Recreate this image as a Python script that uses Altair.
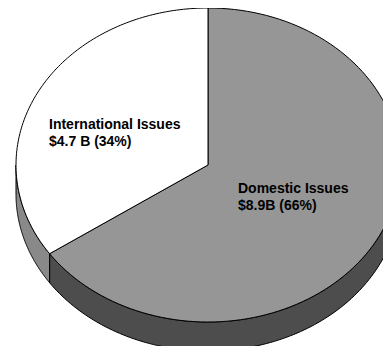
import altair as alt
import numpy as np
import pandas as pd

# ---- data ----
categories = ["Domestic Issues", "International Issues"]
values_b = [8.9, 4.7]                      # $ billions
label_line1 = ["Domestic Issues", "International Issues"]
label_line2 = ["$8.9B (66%)", "$4.7 B (34%)"]

# ---- layout / style (not data) ----
# the page (8px margin + chart + 8px margin) must fit the 391x354 window
W, H = 375, 338
CX, CY, RX, RY, DEPTH = 200, 157, 192, 157, 29
top_colors = {"Domestic Issues": "#969696", "International Issues": "#ffffff"}
side_colors = {"Domestic Issues": "#4d4d4d", "International Issues": "#898989"}
label_pos = {"Domestic Issues": (230, 184.5), "International Issues": (41, 120.5)}
N = 120

total = float(sum(values_b))
ends = np.cumsum(values_b) / total * 360.0
starts = np.concatenate([[0.0], ends[:-1]])


def pt(theta_deg, drop=0.0):
    t = np.radians(theta_deg)
    return CX + RX * np.sin(t), CY - RY * np.cos(t) + drop


rows_top, rows_side = [], []
for cat, a, b in zip(categories, starts, ends):
    # top face: centre -> arc -> centre
    th = np.linspace(a, b, N)
    xs_, ys_ = pt(th)
    px = np.concatenate([[CX], xs_, [CX]])
    py = np.concatenate([[CY], ys_, [CY]])
    for i, (x, y) in enumerate(zip(px, py)):
        rows_top.append({"key": cat, "i": i, "x": x, "y": y})
    # visible side band (front half: 90..270 deg)
    lo, hi = max(a, 90.0), min(b, 270.0)
    if lo < hi:
        th = np.linspace(lo, hi, N)
        tx, ty = pt(th)
        bx, by = pt(th[::-1], DEPTH)
        px = np.concatenate([tx, bx, tx[:1]])
        py = np.concatenate([ty, by, ty[:1]])
        for i, (x, y) in enumerate(zip(px, py)):
            rows_side.append({"key": cat, "i": i, "x": x, "y": y})

top_df = pd.DataFrame(rows_top)
side_df = pd.DataFrame(rows_side)
lab_df = pd.DataFrame({
    "key": categories,
    "text": [f"{l1}\n{l2}" for l1, l2 in zip(label_line1, label_line2)],
    "x": [label_pos[c][0] for c in categories],
    "y": [label_pos[c][1] for c in categories],
})

xs = alt.Scale(domain=[0, W], nice=False, zero=False)
ys = alt.Scale(domain=[0, H], reverse=True, nice=False, zero=False)


def poly(df, colors):
    return alt.Chart(df).mark_line(stroke="black", strokeWidth=1, clip=True,
                                   strokeJoin="round").encode(
        x=alt.X("x:Q", scale=xs, axis=None),
        y=alt.Y("y:Q", scale=ys, axis=None),
        fill=alt.Fill("key:N", scale=alt.Scale(domain=list(colors.keys()),
                                               range=list(colors.values())),
                      legend=None),
        detail="key:N",
        order=alt.Order("i:Q"),
    )


side = poly(side_df, side_colors)
top = poly(top_df, top_colors)

labels = alt.Chart(lab_df).mark_text(
    align="left", baseline="alphabetic", lineBreak="\n", lineHeight=17,
    font="Liberation Sans", fontWeight="bold", fontSize=14, color="black",
).encode(
    x=alt.X("x:Q", scale=xs, axis=None),
    y=alt.Y("y:Q", scale=ys, axis=None),
    text="text:N",
)

chart = alt.layer(side, top, labels).resolve_scale(
    fill="independent"
).properties(
    width=W, height=H, padding=0
).configure_view(stroke=None)

chart.save("out.html", embed_options={"renderer": "svg", "actions": False})
